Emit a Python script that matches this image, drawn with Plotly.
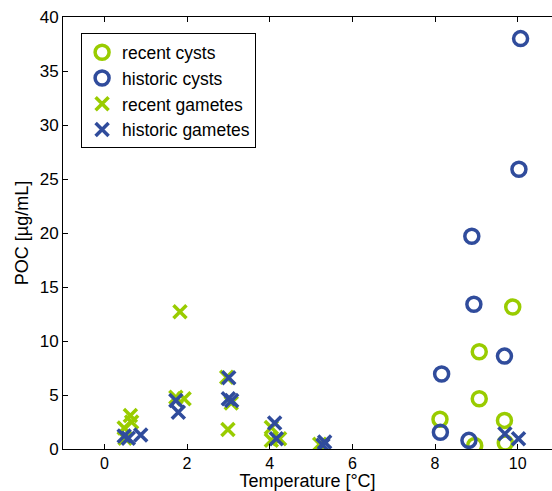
import plotly.graph_objects as go

# Recent cysts (open green circles)
recent_cysts_temp = [9.88, 9.07, 9.07, 8.12, 9.68, 8.96, 9.70]
recent_cysts_poc = [13.15, 9.0, 4.65, 2.75, 2.65, 0.32, 0.55]

# Historic cysts (open blue circles)
historic_cysts_temp = [10.07, 10.03, 8.89, 8.94, 9.68, 8.16, 8.13, 8.82]
historic_cysts_poc = [38.0, 25.9, 19.7, 13.4, 8.6, 6.95, 1.55, 0.8]

# Recent gametes (green crosses)
recent_gametes_temp = [1.83, 1.73, 1.93, 0.63, 0.66, 0.48, 0.50, 2.96, 3.07,
                       2.99, 4.04, 4.24, 4.04, 5.21]
recent_gametes_poc = [12.7, 4.8, 4.65, 3.1, 2.5, 1.95, 1.0, 6.65, 4.25,
                      1.8, 2.0, 0.95, 0.8, 0.45]

# Historic gametes (blue crosses)
historic_gametes_temp = [1.73, 1.79, 0.48, 0.58, 0.88, 3.01, 3.00, 3.08,
                         4.12, 4.16, 5.33, 5.29, 9.69, 10.02]
historic_gametes_poc = [4.5, 3.4, 1.2, 1.0, 1.3, 6.6, 4.65, 4.5,
                        2.4, 0.95, 0.65, 0.35, 1.4, 0.95]

x_ticks = [0, 2, 4, 6, 8, 10]
y_ticks = [0, 5, 10, 15, 20, 25, 30, 35, 40]

GREEN = "#99cc00"
BLUE = "#304c9c"
FONT = "Liberation Sans, Arial, sans-serif"

fig = go.Figure()


def circles(x, y, color, name):
    return go.Scatter(
        x=x, y=y, mode="markers", name=name,
        marker=dict(symbol="circle-open", size=14, color=color,
                    line=dict(width=3.5, color=color)),
    )


def crosses(x, y, color, name):
    return go.Scatter(
        x=x, y=y, mode="markers", name=name,
        marker=dict(symbol="x-thin-open", size=13, color=color,
                    line=dict(width=3.5, color=color)),
    )


fig.add_trace(circles(recent_cysts_temp, recent_cysts_poc, GREEN, "recent cysts"))
fig.add_trace(circles(historic_cysts_temp, historic_cysts_poc, BLUE, "historic cysts"))
fig.add_trace(crosses(recent_gametes_temp, recent_gametes_poc, GREEN, "recent gametes"))
fig.add_trace(crosses(historic_gametes_temp, historic_gametes_poc, BLUE, "historic gametes"))

fig.update_layout(
    width=552, height=491,
    margin=dict(l=63, r=0, t=17, b=42),
    paper_bgcolor="white", plot_bgcolor="white",
    font=dict(family=FONT, size=17, color="black"),
    showlegend=True,
    legend=dict(
        x=0.037, y=0.962, xanchor="left", yanchor="top",
        bgcolor="white", bordercolor="black", borderwidth=1,
        font=dict(family=FONT, size=17.5, color="black"),
        itemsizing="trace",
        entrywidth=142, entrywidthmode="pixels",
    ),
)

fig.update_xaxes(
    range=[-1.0, 10.83], tickvals=x_ticks, ticktext=[str(v) for v in x_ticks],
    ticks="inside", ticklen=5, tickcolor="black", tickwidth=1,
    showline=True, linecolor="black", linewidth=1, mirror="ticks",
    showgrid=False, zeroline=False,
    title=dict(text="Temperature [°C]", font=dict(size=18), standoff=4),
    tickfont=dict(size=16),
)
fig.update_yaxes(
    range=[0, 40], tickvals=y_ticks, ticktext=[str(v) for v in y_ticks],
    ticks="inside", ticklen=5, tickcolor="black", tickwidth=1,
    showline=True, linecolor="black", linewidth=1, mirror=False,
    showgrid=False, zeroline=False,
    title=dict(text="POC [µg/mL]", font=dict(size=18), standoff=6),
    tickfont=dict(size=17),
)

fig.write_html("out.html")
